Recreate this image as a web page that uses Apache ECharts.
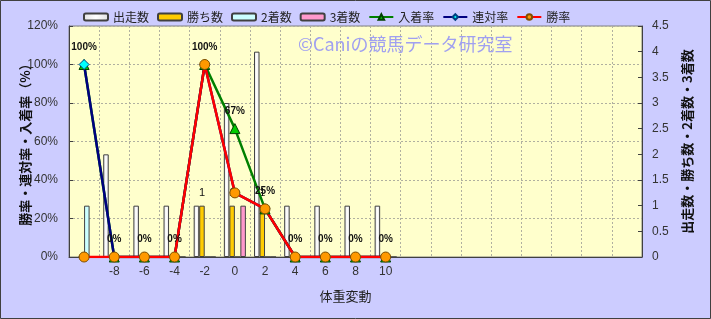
<!DOCTYPE html>
<html>
<head>
<meta charset="utf-8">
<script src="https://cdn.jsdelivr.net/npm/echarts@6/dist/echarts.min.js"></script>
<style>
  html, body { margin: 0; padding: 0; background: #ccccff; }
  #chart { width: 711px; height: 319px; }
</style>
</head>
<body>
<div id="chart"></div>
<script>
// 体重変動ごとの成績
const weightLabels = ['', '-8', '-6', '-4', '-2', '0', '2', '4', '6', '8', '10', '', '', '', '', '', '', '', ''];
const runs     = [null, 2, 1, 1, 1, 3, 4, 1, 1, 1, 1];
const wins     = [0, 0, 0, 0, 1, 1, 1, 0, 0, 0, 0];
const seconds  = [1, 0, 0, 0, 0, 0, 0, 0, 0, 0, 0];
const thirds   = [0, 0, 0, 0, 0, 1, 0, 0, 0, 0, 0];
const placeRate    = [100, 0, 0, 0, 100, 66.7, 25, 0, 0, 0, 0];
const quinellaRate = [100, 0, 0, 0, 100, 33.3, 25, 0, 0, 0, 0];
const winRate      = [0, 0, 0, 0, 100, 33.3, 25, 0, 0, 0, 0];

const JP = '"Noto Sans CJK JP", sans-serif';
const NUM = '"Liberation Sans", Arial, sans-serif';

const chart = echarts.init(document.getElementById('chart'), null, { renderer: 'canvas' });

const barBorder = { borderColor: '#404040', borderWidth: 1 };

chart.setOption({
  backgroundColor: '#ccccff',
  animation: false,
  graphic: [{
    type: 'rect', silent: true, z: 100,
    shape: { x: 0.5, y: 0.5, width: 710, height: 318 },
    style: { fill: 'none', stroke: '#404040', lineWidth: 1 }
  }, {
    type: 'text', silent: true, z: 1,
    left: 298, top: 35,
    style: {
      text: '©Caniの競馬データ研究室',
      fill: '#a0a0f0',
      font: '18px ' + JP
    }
  }],
  legend: {
    left: 83, top: 11, padding: 0,
    itemWidth: 24, itemHeight: 7, itemGap: 8,
    textStyle: { fontFamily: JP, fontSize: 12, color: '#222' },
    data: ['出走数', '勝ち数', '2着数', '3着数', '入着率', '連対率', '勝率']
  },
  grid: {
    left: 69, right: 69, top: 26, bottom: 62,
    outerBoundsMode: 'none',
    containLabel: false,
    show: true, backgroundColor: '#ffffcc', borderColor: '#808080', borderWidth: 1
  },
  xAxis: {
    type: 'category',
    data: weightLabels,
    boundaryGap: true,
    name: '体重変動',
    nameLocation: 'middle',
    nameGap: 33,
    nameMoveOverlap: false,
    nameTextStyle: { fontFamily: JP, fontSize: 13, color: '#222', padding: [0, 20, 0, 0] },
    axisLine: { lineStyle: { color: '#404040' } },
    axisTick: { show: false },
    axisLabel: { interval: 0, fontFamily: NUM, fontSize: 12, color: '#333', margin: 9 },
    splitLine: { show: true, interval: 0, lineStyle: { color: '#b0b0a0', type: [2, 2] } }
  },
  yAxis: [{
    type: 'value',
    min: 0, max: 120, interval: 20,
    position: 'left',
    name: '勝率・連対率・入着率（%）',
    nameLocation: 'middle',
    nameRotate: 90,
    nameGap: 37,
    nameMoveOverlap: false,
    nameTextStyle: { fontFamily: JP, fontSize: 13, fontWeight: 'bold', color: '#111' },
    axisLine: { show: true, lineStyle: { color: '#404040' } },
    axisTick: { show: true, inside: true, length: 4, lineStyle: { color: '#404040' } },
    axisLabel: { formatter: '{value}%', fontFamily: NUM, fontSize: 12, color: '#333', margin: 11 },
    splitLine: { show: true, lineStyle: { color: '#b0b0a0', type: [2, 2] } }
  }, {
    type: 'value',
    min: 0, max: 4.5, interval: 0.5,
    position: 'right',
    name: '出走数・勝ち数・2着数・3着数',
    nameLocation: 'middle',
    nameRotate: 90,
    nameGap: 39,
    nameMoveOverlap: false,
    nameTextStyle: { fontFamily: JP, fontSize: 13, fontWeight: 'bold', color: '#111' },
    axisLine: { show: true, lineStyle: { color: '#404040' } },
    axisTick: { show: true, inside: true, length: 4, lineStyle: { color: '#404040' } },
    axisLabel: { fontFamily: NUM, fontSize: 12, color: '#333', margin: 10 },
    splitLine: { show: false }
  }],
  series: [{
    name: '出走数', type: 'bar', yAxisIndex: 1, data: runs,
    barGap: '0%', barCategoryGap: '27%',
    itemStyle: Object.assign({
      color: { type: 'linear', x: 0, y: 0, x2: 1, y2: 0,
        colorStops: [{ offset: 0, color: '#e4e4e4' }, { offset: 0.5, color: '#ffffff' }, { offset: 1, color: '#e0e0e0' }] }
    }, barBorder)
  }, {
    name: '勝ち数', type: 'bar', yAxisIndex: 1, data: wins,
    itemStyle: Object.assign({ color: '#ffcc00' }, barBorder),
    label: {
      show: true, position: 'top', distance: 7,
      fontFamily: NUM, fontSize: 11, color: '#111',
      formatter: p => (p.value ? String(p.value) : '')
    }
  }, {
    name: '2着数', type: 'bar', yAxisIndex: 1, data: seconds,
    itemStyle: Object.assign({ color: '#ccffff' }, barBorder)
  }, {
    name: '3着数', type: 'bar', yAxisIndex: 1, data: thirds,
    itemStyle: Object.assign({ color: '#ff99cc' }, barBorder)
  }, {
    name: '入着率', type: 'line', yAxisIndex: 0, data: placeRate,
    symbol: 'triangle', symbolSize: 10,
    lineStyle: { color: '#008000', width: 2.5 },
    itemStyle: { color: '#00cc00', borderColor: '#004000', borderWidth: 1 },
    label: {
      show: true, position: 'top', distance: 7,
      fontFamily: NUM, fontSize: 10, fontWeight: 'bold', color: '#111',
      formatter: p => Math.round(p.value) + '%'
    }
  }, {
    name: '連対率', type: 'line', yAxisIndex: 0, data: quinellaRate,
    symbol: 'diamond', symbolSize: 10,
    lineStyle: { color: '#000080', width: 2.5 },
    itemStyle: { color: '#00ffff', borderColor: '#004080', borderWidth: 1 }
  }, {
    name: '勝率', type: 'line', yAxisIndex: 0, data: winRate,
    symbol: 'circle', symbolSize: 10,
    lineStyle: { color: '#ff0000', width: 2.5 },
    itemStyle: { color: '#ff9900', borderColor: '#805000', borderWidth: 1 }
  }]
});
</script>
</body>
</html>
